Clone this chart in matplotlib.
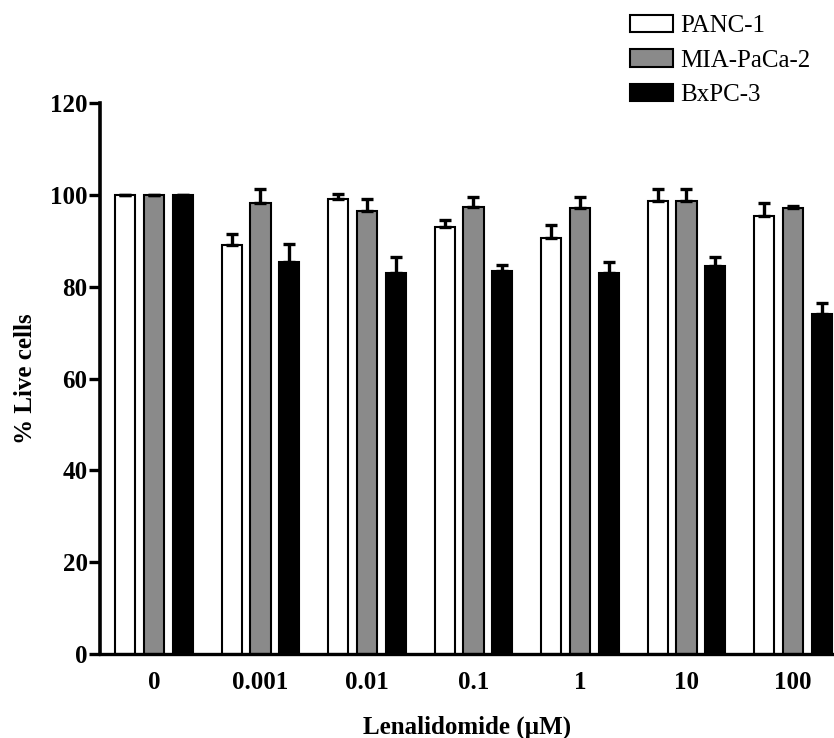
import numpy as np
import matplotlib
matplotlib.use("Agg")
import matplotlib.pyplot as plt

# ---- data ----
doses = ["0", "0.001", "0.01", "0.1", "1", "10", "100"]
series = ["PANC-1", "MIA-PaCa-2", "BxPC-3"]

panc = [100, 89.1, 99.1, 93.0, 90.6, 98.7, 95.4]
mia = [100, 98.3, 96.5, 97.4, 97.2, 98.7, 97.2]
bxpc = [100, 85.4, 83.0, 83.5, 83.0, 84.4, 74.1]

panc_err = [0, 2.4, 1.1, 1.5, 2.9, 2.6, 2.9]
mia_err = [0, 3.0, 2.6, 2.2, 2.4, 2.6, 0.4]
bxpc_err = [0, 3.9, 3.5, 1.3, 2.4, 2.1, 2.4]

colors = ["white", "#8a8a8a", "black"]

plt.rcParams['font.family'] = ['Liberation Serif', 'DejaVu Serif']

fig = plt.figure(figsize=(8.34, 7.38), dpi=100)
ax = fig.add_axes([100 / 834, 84 / 738, 734 / 834, 551 / 738])

x = np.arange(len(doses))
width = 0.188
step = 0.272

for i, (vals, errs) in enumerate([(panc, panc_err), (mia, mia_err), (bxpc, bxpc_err)]):
    pos = x + (i - 1) * step
    errs = np.array(errs)
    ax.bar(pos, vals, width, color=colors[i], edgecolor="black", linewidth=1.5,
           label=series[i], zorder=2,
           yerr=[np.zeros_like(errs), errs],
           error_kw=dict(ecolor="black", elinewidth=2.4, capsize=4, capthick=2.4, zorder=3))

ax.set_xlim(-0.507, 6.385)
ax.set_ylim(0, 120)
ax.set_yticks(np.arange(0, 121, 20))
ax.set_xticks(x)
ax.set_xticklabels(doses)

for s in ["top", "right"]:
    ax.spines[s].set_visible(False)
ax.spines["left"].set_linewidth(2.6)
ax.spines["bottom"].set_linewidth(2.4)

ax.tick_params(axis="y", length=8, width=2.4, pad=1, labelsize=18)
ax.tick_params(axis="x", length=0, pad=12, labelsize=18)
for lab in ax.get_xticklabels() + ax.get_yticklabels():
    lab.set_fontweight("bold")

ax.set_ylabel("% Live cells", fontsize=18, fontweight="bold", labelpad=9)
ax.set_xlabel("Lenalidomide (\u00b5M)", fontsize=18, fontweight="bold", labelpad=16)

fig.legend(loc="upper left", bbox_to_anchor=(630 / 834, 1 - 15 / 738),
           frameon=False, fontsize=18, handlelength=1.72, handleheight=0.68,
           handletextpad=0.28, labelspacing=0.48, borderpad=0, borderaxespad=0)

fig.savefig("out.png", dpi=100)
